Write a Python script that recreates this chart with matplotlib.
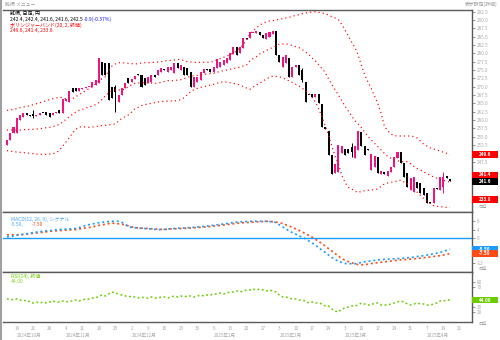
import matplotlib
matplotlib.use('Agg')
import matplotlib.pyplot as plt
from matplotlib.patches import Rectangle
from matplotlib.lines import Line2D
from matplotlib.transforms import blended_transform_factory, offset_copy
import numpy as np

plt.rcParams['font.family'] = ['Noto Sans CJK JP', 'DejaVu Sans']

# ---------------- data ----------------
opens = [252.5, 254.0, 256.0, 256.0, 260.0, 261.0, 262.0, 261.5, 261.7, 261.3,
         261.5, 262.2, 262.5, 262.0, 261.5, 262.0, 263.0, 262.2, 265.8, 265.5,
         269.5, 269.5, 268.8, 269.4, 269.6, 269.8, 270.0, 270.5, 271.0, 277.5,
         277.0, 277.0, 270.0, 270.0, 265.5, 267.5, 269.5, 272.5, 271.5, 272.2,
         273.7, 273.5, 272.5, 271.0, 271.5, 273.5, 273.5, 274.5, 275.2, 274.5,
         275.0, 274.0, 277.0, 275.0, 276.0, 275.5, 274.5, 270.0, 271.5, 272.0,
         274.2, 275.2, 275.2, 274.5, 275.5, 276.0, 276.5, 277.2, 278.0, 279.8,
         282.0, 280.0, 281.5, 284.5, 284.5, 286.0, 286.2, 286.5, 285.5, 284.2,
         285.0, 285.8, 286.7, 279.5, 276.0, 277.0, 278.5, 273.0, 276.0, 276.5,
         275.0, 271.5, 267.5, 267.8, 267.0, 267.8, 264.8, 257.8, 256.7, 249.5,
         244.0, 244.5, 250.0, 251.2, 251.2, 252.0, 248.5, 251.0, 256.5, 252.2,
         251.2, 245.0, 246.0, 249.0, 243.8, 244.5, 243.2, 244.5, 245.8, 248.5,
         250.5, 247.0, 244.0, 239.0, 238.5, 241.5, 241.0, 239.5, 238.2, 235.5,
         235.0, 239.5, 239.0, 240.0, 243.2, 242.4]
closes = [254.0, 256.0, 258.0, 260.5, 261.5, 262.2, 261.6, 261.3, 261.3, 261.6,
          262.0, 262.0, 261.5, 261.0, 262.2, 262.5, 262.0, 266.2, 266.2, 268.7,
          268.5, 268.8, 269.5, 269.7, 269.8, 270.0, 271.5, 272.0, 278.5, 273.5,
          273.5, 266.0, 266.5, 268.5, 267.5, 269.5, 271.0, 271.0, 272.2, 273.2,
          273.5, 270.0, 270.5, 273.0, 273.5, 273.0, 275.0, 275.5, 275.0, 276.0,
          276.0, 277.0, 275.5, 276.5, 273.5, 273.5, 270.0, 273.0, 273.0, 274.5,
          275.2, 275.0, 274.5, 276.0, 278.2, 277.5, 278.0, 278.5, 280.0, 281.8,
          279.5, 282.0, 284.5, 284.2, 286.5, 286.2, 286.7, 285.5, 284.5, 286.0,
          286.5, 286.7, 279.5, 277.5, 279.0, 279.5, 273.0, 276.0, 276.5, 273.5,
          272.0, 265.5, 267.4, 267.0, 267.8, 265.0, 258.0, 257.2, 249.5, 243.8,
          246.8, 252.5, 252.2, 249.5, 250.0, 250.5, 252.2, 256.7, 252.2, 249.5,
          251.0, 249.8, 249.2, 244.2, 244.8, 243.8, 244.8, 246.0, 248.8, 250.5,
          247.0, 242.8, 240.0, 242.5, 243.0, 239.5, 238.0, 237.5, 235.0, 235.0,
          239.5, 239.3, 243.0, 243.0, 242.5, 241.6]
# notable wick extremes (candle index -> price)
wick_high = {8: 263.0, 33: 270.5, 90: 275.5, 105: 253.0, 133: 244.5}
wick_low = {8: 260.5, 33: 262.5, 90: 271.5, 105: 249.0, 133: 238.0}

bb_upper = [262.9, 263.0, 263.2, 263.4, 263.7, 263.9, 264.1, 264.3, 264.6, 264.9,
            265.2, 265.5, 265.8, 266.1, 266.4, 266.6, 266.8, 266.7, 266.4, 266.2,
            266.4, 267.0, 267.6, 268.2, 268.8, 269.4, 270.1, 270.8, 271.7, 272.4,
            273.0, 274.8, 276.2, 276.8, 277.2, 277.2, 277.1, 277.0, 276.9, 276.8,
            276.9, 277.1, 277.2, 277.2, 277.2, 277.3, 277.4, 277.5, 277.7, 277.8,
            277.9, 278.0, 278.2, 278.1, 277.8, 277.5, 277.4, 277.3, 277.3, 277.3,
            277.3, 277.3, 277.3, 277.6, 278.0, 278.4, 278.8, 279.2, 279.6, 280.0,
            280.8, 281.6, 282.6, 284.0,
            285.8, 286.8, 287.6, 288.5, 289.0, 289.4, 289.7, 289.8, 290.0, 290.2,
            290.4, 290.6, 290.8, 291.1, 291.4, 291.6, 291.9, 292.1, 292.2, 292.4,
            292.5, 292.3, 292.1, 291.9, 291.5, 291.0, 290.6, 290.1, 288.7, 287.0,
            285.2, 283.4, 281.8, 279.5, 276.4, 273.6, 271.4, 269.5, 267.2, 265.0,
            262.0, 258.2, 256.8, 255.8, 255.3, 255.2, 255.2, 255.2, 255.2, 255.2,
            255.0, 254.6, 253.7, 252.7, 252.2, 251.6, 251.3, 251.0, 250.7, 250.3,
            250.0, 249.6]
bb_middle = [257.0, 257.0, 257.0, 257.0, 257.0, 257.1, 257.1, 257.2, 257.2, 257.3,
             257.4, 257.5, 257.7, 257.8, 258.0, 258.3, 258.7, 259.4, 260.2, 261.0,
             261.7, 262.4, 262.9, 263.2, 263.6, 263.9, 264.2, 264.6, 265.2, 266.2,
             267.3, 268.1, 268.8, 269.0, 269.0, 269.0, 269.3, 270.0, 270.6, 271.0,
             271.1, 271.2, 271.2, 271.1, 271.1, 271.0, 271.1, 271.3, 271.6, 271.8,
             271.8, 271.8, 272.0, 272.1, 272.4, 272.8, 273.1, 273.3, 273.4, 273.5,
             273.7, 273.8, 273.9, 274.0, 274.3, 274.6, 274.8, 275.0, 275.2, 275.4,
             275.7, 275.9, 276.2, 276.5,
             277.7, 278.4, 279.0, 279.8, 280.3, 280.9, 281.3, 281.8, 282.2, 282.8,
             282.8, 282.8, 282.7, 282.3, 282.0, 281.7, 281.1, 280.4, 279.6, 278.6,
             277.7, 276.6, 275.4, 274.3, 272.3, 270.7, 269.0, 267.5, 265.8, 264.2,
             262.7, 261.2, 259.9, 258.8, 257.7, 256.4, 255.1, 254.0, 253.0, 252.0,
             251.0, 250.0, 249.1, 248.5, 248.0, 247.8, 247.5, 247.5, 247.5, 246.9,
             246.1, 245.5, 245.0, 244.4, 243.9, 243.4, 242.9, 242.5, 242.1, 241.9,
             241.6, 241.4]
bb_lower = [250.8, 250.7, 250.5, 250.4, 250.3, 250.2, 250.1, 250.0, 249.9, 249.8,
            249.7, 249.7, 249.7, 249.8, 249.9, 250.2, 250.9, 252.2, 253.4, 254.7,
            256.1, 257.2, 257.9, 258.0, 257.9, 257.8, 257.9, 258.0, 258.2, 258.3,
            258.4, 258.5, 258.7, 258.8, 259.7, 260.5, 261.0, 261.5, 262.4, 263.4,
            263.8, 264.3, 264.6, 264.8, 265.0, 265.2, 265.4, 265.5, 265.6, 265.7,
            265.7, 265.7, 265.9, 266.1, 266.7, 267.6, 268.5, 269.1, 269.5, 269.8,
            270.0, 270.2, 270.5, 270.7, 271.0, 271.4, 271.4, 271.4, 271.2, 271.0,
            270.8, 270.5, 270.0, 269.6,
            269.2, 269.9, 270.5, 271.0, 271.7, 272.3, 272.8, 273.2, 273.1, 273.0,
            272.6, 272.2, 271.7, 271.2, 270.7, 270.2, 269.5, 268.8, 268.0, 266.8,
            265.4, 263.3, 260.9, 258.2, 255.5, 252.2, 249.1, 246.8, 243.5, 241.3,
            239.8, 239.3, 238.7, 238.2, 238.6, 238.8, 238.9, 239.0, 239.1, 239.3,
            240.1, 240.8, 241.1, 241.3, 241.5, 241.7, 242.0, 241.4, 240.9, 240.1,
            239.2, 238.3, 237.4, 236.4, 235.6, 234.9, 234.3, 234.1, 234.0, 233.9,
            233.8, 233.8]

macd = [0.5, 0.7, 0.9, 1.2, 1.5, 1.8, 2.0, 2.3, 2.5, 2.8,
        3.0, 3.2, 3.4, 3.5, 3.7, 3.9, 4.0, 4.1, 4.2, 4.3,
        4.4, 4.6, 5.0, 5.5, 6.0, 6.4, 6.7, 7.0, 7.3, 7.5,
        7.8, 7.9, 8.0, 8.0, 8.0, 7.5, 6.5, 5.5, 5.0, 4.9,
        4.7, 4.6, 4.5, 4.4, 4.3, 4.1, 4.0, 4.0, 4.1, 4.3,
        4.4, 4.5, 4.6, 4.7, 4.8, 4.9, 5.0, 5.1, 5.3, 5.4,
        5.5, 5.7, 5.9, 6.1, 6.3, 6.5, 6.7, 6.9, 7.2, 7.4,
        7.6, 7.7, 7.8, 7.9, 8.0, 8.0, 8.0, 8.0, 8.0, 8.0,
        7.9, 7.7, 7.4, 6.3, 5.3, 4.3, 3.3, 2.5, 1.8, 1.0,
        0.3, -0.5, -1.5, -2.5, -3.5, -4.8, -6.0, -7.0, -8.3, -9.5,
        -10.5, -11.3, -11.9, -12.4, -12.5, -12.5, -12.5, -12.3, -11.9, -11.6,
        -11.3, -11.1, -10.9, -10.7, -10.5, -10.4, -10.3, -10.2, -10.1, -10.0,
        -9.9, -9.8, -9.6, -9.5, -9.3, -9.0, -8.8, -8.6, -8.3, -8.0,
        -7.7, -7.4, -7.0, -6.5, -6.0, -5.5]
signal = [1.5, 1.5, 1.5, 1.5, 1.5, 1.6, 1.8, 2.0, 2.2, 2.4,
          2.5, 2.7, 2.9, 3.1, 3.3, 3.4, 3.5, 3.6, 3.7, 3.8,
          3.9, 4.0, 4.3, 4.6, 4.8, 5.0, 5.3, 5.6, 6.0, 6.3,
          6.6, 6.9, 7.1, 7.0, 6.8, 6.6, 6.3, 5.8, 5.3, 5.0,
          4.8, 4.7, 4.6, 4.5, 4.4, 4.3, 4.2, 4.1, 4.1, 4.2,
          4.3, 4.4, 4.4, 4.5, 4.6, 4.7, 4.8, 4.9, 5.0, 5.1,
          5.3, 5.4, 5.5, 5.7, 5.8, 6.0, 6.2, 6.4, 6.6, 6.8,
          7.0, 7.2, 7.3, 7.4, 7.5, 7.6, 7.7, 7.8, 7.9, 8.0,
          8.0, 7.8, 7.6, 7.4, 6.9, 6.3, 5.7, 5.0, 4.3, 3.6,
          2.8, 2.0, 1.2, 0.3, -0.7, -1.7, -2.8, -4.0, -5.2, -6.4,
          -7.6, -8.8, -9.9, -10.8, -11.5, -12.0, -12.6, -12.9, -13.0, -12.9,
          -12.7, -12.4, -12.2, -12.0, -11.8, -11.6, -11.4, -11.2, -11.0, -10.8,
          -10.6, -10.5, -10.4, -10.3, -10.1, -10.0, -9.8, -9.6, -9.4, -9.2,
          -9.0, -8.8, -8.6, -8.3, -8.0, -7.5]
rsi = [46, 46, 44, 46, 44, 42, 44, 40, 38, 40,
       38, 40, 38, 40, 42, 40, 40, 42, 40, 42,
       42, 44, 42, 44, 46, 46, 48, 48, 52, 54,
       52, 56, 60, 58, 56, 54, 52, 52, 50, 50,
       48, 50, 48, 48, 50, 48, 48, 50, 50, 48,
       50, 52, 50, 52, 50, 52, 52, 50, 52, 54,
       52, 54, 54, 56, 56, 58, 56, 58, 60, 60,
       62, 60, 62, 64, 64, 66, 64, 66, 64, 62,
       64, 62, 60, 54, 50, 50, 48, 46, 46, 44,
       44, 42, 38, 40, 38, 38, 36, 32, 32, 26,
       22, 20, 26, 28, 30, 32, 32, 34, 38, 36,
       34, 34, 38, 38, 34, 34, 34, 36, 38, 40,
       42, 40, 36, 34, 36, 38, 36, 36, 34, 34,
       36, 38, 42, 42, 44, 44]

day_tick_idx = [3, 8, 13, 18, 23, 28, 33, 38, 43, 48, 53, 58, 63, 68, 73, 78,
                83, 88, 93, 98, 103, 108, 113, 118, 123, 128, 133, 138]
day_tick_labels = ['14', '21', '28', '4', '11', '18', '25', '2', '9', '16', '23', '30',
                   '6', '13', '20', '27', '3', '10', '17', '24', '3', '10', '17', '24',
                   '31', '7', '14', '21']
month_idx = [3, 18, 38, 63, 83, 103, 128]
month_labels = ['2024年10月', '2024年11月', '2024年12月', '2025年1月',
                '2025年2月', '2025年3月', '2025年4月']

price_ticks = [235.0, 237.5, 240.0, 242.5, 245.0, 247.5, 250.0, 252.5, 255.0, 257.5,
               260.0, 262.5, 265.0, 267.5, 270.0, 272.5, 275.0, 277.5, 280.0, 282.5,
               285.0, 287.5, 290.0, 292.5]
macd_ticks = [8, 4, 0, -4, -8, -12]
rsi_ticks = [80, 70, 30, 20]

# ---------------- figure ----------------
W, H = 500, 340
fig = plt.figure(figsize=(5, 3.4), dpi=100)
fig.patch.set_facecolor('white')


def fx(px):
    return px / W


def fy(py):
    return 1 - py / H


L, R = 3, 472
ax1 = fig.add_axes([fx(L), fy(212), fx(R) - fx(L), fy(10) - fy(212)])
ax2 = fig.add_axes([fx(L), fy(272), fx(R) - fx(L), fy(212) - fy(272)])
ax3 = fig.add_axes([fx(L), fy(322), fx(R) - fx(L), fy(272) - fy(322)])

n = len(opens)
x = np.arange(n)
XLIM = (-1.2, 141.7)

PINK = '#f0147f'
RED = '#ff0000'
BLUE = '#1a9cff'
ORANGE = '#ff4a14'
GREEN = '#6ccc00'
LBL = '#a8a8a8'

for ax in (ax1, ax2, ax3):
    ax.set_xlim(*XLIM)
    ax.set_facecolor('white')
    ax.spines['left'].set_visible(False)
    for s in ('top', 'right', 'bottom'):
        ax.spines[s].set_color('#5a5a5a')
        ax.spines[s].set_linewidth(1.0)
    ax.yaxis.tick_right()
    ax.tick_params(axis='y', which='both', right=True, left=False, labelright=True,
                   labelleft=False, length=2, width=0.6, color='#888888',
                   labelcolor=LBL, labelsize=3.3, pad=1.5)
    ax.tick_params(axis='x', bottom=False, labelbottom=False)


def data_per_px(ax):
    y0, y1 = ax.get_ylim()
    return (y1 - y0) / (ax.get_position().height * H)


def free_ticks(ax, ticks, box_pos, gap_px=6.5):
    """keep only tick labels that are not hidden under a value box"""
    g = gap_px * data_per_px(ax)
    return [t for t in ticks if all(abs(t - b) >= g for b in box_pos)]


# ---- main panel: candles + bollinger ----
highs = [wick_high.get(i, max(o, c)) for i, (o, c) in enumerate(zip(opens, closes))]
lows = [wick_low.get(i, min(o, c)) for i, (o, c) in enumerate(zip(opens, closes))]
cols = [PINK if c >= o else 'black' for o, c in zip(opens, closes)]
bottoms = [min(o, c) for o, c in zip(opens, closes)]
heights = [max(abs(c - o), 0.3) for o, c in zip(opens, closes)]
ax1.vlines(x, lows, highs, colors=cols, linewidth=0.7, zorder=2)
ax1.bar(x, heights, bottom=bottoms, width=0.62, color=cols, linewidth=0, zorder=2)

for band in (bb_upper, bb_middle, bb_lower):
    ax1.plot(x, band, color=RED, linewidth=0.85, linestyle=(0, (1.0, 2.6)), zorder=3)

ax1.set_ylim(232.4, 293.0)
ax2.set_ylim(-16.5, 12.5)
ax3.set_ylim(0, 100)


# ---- right-side value boxes (shifted in pixels where labels would collide) ----
def value_box(ax, val, fc, txt, dy_px=0.0, px_h=6.5):
    pos = val + dy_px * data_per_px(ax)
    h = px_h * data_per_px(ax)
    tr = blended_transform_factory(ax.transAxes, ax.transData)
    wfrac = 26 / (R - L)
    ax.add_patch(Rectangle((1.0, pos - h / 2), wfrac, h, transform=tr, fc=fc,
                           ec='none', clip_on=False, zorder=10))
    ax.text(1.0 + wfrac / 2, pos, txt, transform=tr, ha='center', va='center',
            color='white', fontsize=3.3, fontweight='bold', clip_on=False, zorder=11)
    return pos


b1 = [value_box(ax1, bb_upper[-1], RED, f'{bb_upper[-1]:.1f}'),
      value_box(ax1, bb_middle[-1], RED, f'{bb_middle[-1]:.1f}', dy_px=7.0),
      value_box(ax1, bb_lower[-1], RED, f'{bb_lower[-1]:.1f}', dy_px=8.0),
      value_box(ax1, closes[-1], 'black', f'{closes[-1]:.1f}')]
b2 = [value_box(ax2, macd[-1], BLUE, f'{macd[-1]:.2f}'),
      value_box(ax2, signal[-1], ORANGE, f'{signal[-1]:.2f}')]
b3 = [value_box(ax3, rsi[-1], GREEN, f'{rsi[-1]:.2f}')]

t1 = free_ticks(ax1, price_ticks, b1)
ax1.set_yticks(t1)
ax1.set_yticklabels([f'{v:.1f}' for v in t1])

# ---- MACD panel ----
ax2.axhline(0, color=BLUE, linewidth=1.0, zorder=1)
ax2.plot(x, signal, color=ORANGE, linewidth=1.2, linestyle=(0, (1.2, 1.7)), zorder=3)
ax2.plot(x, macd, color=BLUE, linewidth=1.2, linestyle=(0, (1.2, 1.7)), zorder=3)
t2 = free_ticks(ax2, macd_ticks, b2)
ax2.set_yticks(t2)
ax2.set_yticklabels([f'{v:g}' for v in t2])

# ---- RSI panel ----
ax3.plot(x, rsi, color=GREEN, linewidth=1.1, linestyle=(0, (1.2, 1.7)), zorder=3)
t3 = free_ticks(ax3, rsi_ticks, b3)
ax3.set_yticks(t3)
ax3.set_yticklabels([f'{v:g}' for v in t3])

# x axis labels
ax3.set_xticks(day_tick_idx)
ax3.set_xticklabels(day_tick_labels)
ax3.tick_params(axis='x', bottom=True, labelbottom=True, length=0, pad=3,
                labelsize=3.3, labelcolor=LBL)
trm = blended_transform_factory(ax3.transData, ax3.transAxes)
for xi, lab in zip(month_idx, month_labels):
    ax3.text(xi, -0.27, lab, transform=trm, ha='left', va='center',
             fontsize=3.3, color=LBL, clip_on=False)

# ---- header / window chrome ----
fig.add_artist(Line2D([fx(1), fx(1)], [0, 1], color='#a0a0a0', linewidth=1.5))
fig.text(fx(5), fy(4.5), '銘柄 メニュー', fontsize=3.5, color='#9a9a9a', va='center')
fig.text(fx(498), fy(4.5), '表示設定(詳細)', fontsize=3.5, color='#9a9a9a',
         va='center', ha='right')
for yy in (206.5, 268.5, 323.5):
    fig.text(fx(478), fy(yy), '目盛', fontsize=3.0, color=LBL, va='center')


# ---- legends ----
def ftxt(px, py, s, color, size=3.6):
    fig.text(fx(px), fy(py), s, fontsize=size, color=color, va='center', ha='left')


prev_close = closes[-2]
chg = closes[-1] - prev_close
ftxt(10, 13.5, '銘柄, 日足, 円', 'black')
ftxt(10, 19.2, f'{opens[-1]:.1f}, {max(highs[-1], opens[-1]):.1f}, '
               f'{min(lows[-1], closes[-1]):.1f}, {closes[-1]:.1f}, {prev_close:.1f}', 'black')
ftxt(84, 19.2, f'{chg:+.1f}({chg / prev_close * 100:+.2f}%)', '#1a1aff')
ftxt(10, 24.8, 'ボリンジャーバンド(20, 2, 終値)', RED)
ftxt(10, 30.4, f'{bb_upper[-1]:.1f}, {bb_middle[-1]:.1f}, {bb_lower[-1]:.1f}', RED)

ftxt(11, 219.5, 'MACD(12, 26, 9), シグナル', '#4aa8ff')
ftxt(11, 224.8, f'{macd[-1]:.2f},', '#4aa8ff')
ftxt(32, 224.8, f'{signal[-1]:.2f}', ORANGE)

ftxt(11, 276.0, 'RSI(14), 終値', GREEN)
ftxt(11, 281.5, f'{rsi[-1]:.2f}', '#8fd43a')

fig.savefig('out.png', dpi=100, facecolor='white')
